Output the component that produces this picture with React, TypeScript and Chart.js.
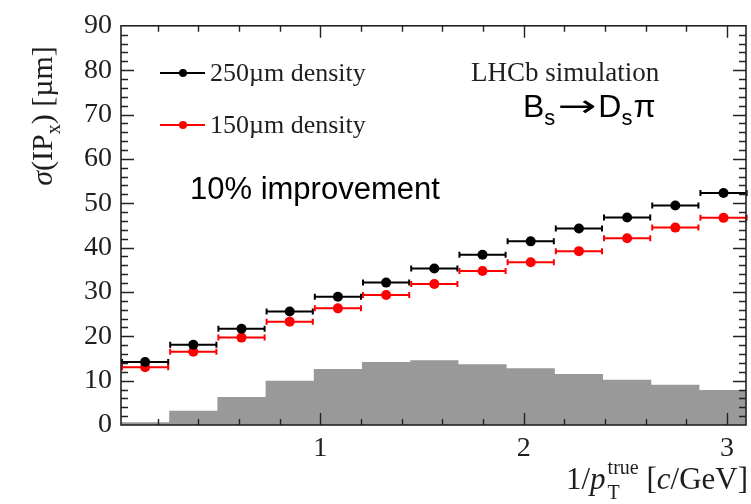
import React, { useEffect, useRef } from "react";
import { Chart, registerables } from "chart.js";

Chart.register(...registerables);

// ---- data ----
const binEdges = [0.02, 0.257, 0.494, 0.731, 0.968, 1.205, 1.442, 1.679, 1.916, 2.153, 2.39, 2.627, 2.864, 3.101];
const sigma250 = [14.2, 18.1, 21.7, 25.6, 28.9, 32.1, 35.3, 38.4, 41.4, 44.3, 46.8, 49.5, 52.3];
const sigma150 = [13.0, 16.5, 19.7, 23.3, 26.3, 29.3, 31.8, 34.7, 36.7, 39.2, 42.1, 44.5, 46.7];
const histogram = [0.6, 3.2, 6.3, 10.0, 12.6, 14.2, 14.6, 13.7, 12.8, 11.5, 10.2, 9.1, 7.9];
const xTickValues = [1, 2, 3];
const legendLabels = ["250\u00b5m density", "150\u00b5m density"];
const seriesColors = ["#000000", "#ff0000"];

const X_MIN = 0.02;
const X_MAX = 3.093;
const Y_MIN = 0;
const Y_MAX = 90;
const X_MINOR = 0.2;
const Y_MINOR = 2;

const SERIF = "'Liberation Serif', 'DejaVu Serif', serif";
const SANS = "'Liberation Sans', Arial, sans-serif";
const TEXT = "#1e1e1e";

const centers = binEdges.slice(0, -1).map((e, i) => (e + binEdges[i + 1]) / 2);

function drawErrorBars(chart: any) {
  const { ctx, scales } = chart;
  const x = scales.x;
  const y = scales.y;
  const series = [sigma250, sigma150];
  ctx.save();
  ctx.lineWidth = 2;
  series.forEach((vals, s) => {
    ctx.strokeStyle = seriesColors[s];
    vals.forEach((v, i) => {
      const x0 = x.getPixelForValue(binEdges[i]);
      const x1 = x.getPixelForValue(binEdges[i + 1]);
      const py = y.getPixelForValue(v);
      ctx.beginPath();
      ctx.moveTo(x0 + 1, py);
      ctx.lineTo(x1 - 1, py);
      ctx.moveTo(x0 + 1, py - 3);
      ctx.lineTo(x0 + 1, py + 3);
      ctx.moveTo(x1 - 1, py - 3);
      ctx.lineTo(x1 - 1, py + 3);
      ctx.stroke();
    });
  });
  ctx.restore();
}

function drawFrame(chart: any) {
  const { ctx, chartArea: a, scales } = chart;
  const x = scales.x;
  const y = scales.y;
  ctx.save();
  ctx.strokeStyle = "#222";
  ctx.lineWidth = 1.6;
  ctx.strokeRect(a.left, a.top, a.right - a.left, a.bottom - a.top);
  ctx.lineWidth = 1.4;
  ctx.beginPath();
  for (let k = 1; k * X_MINOR <= X_MAX + 1e-9; k++) {
    const v = k * X_MINOR;
    if (v < X_MIN) continue;
    const px = Math.round(x.getPixelForValue(v)) + 0.5;
    const major = Math.abs(v - Math.round(v)) < 1e-6;
    const len = major ? 12 : 6;
    ctx.moveTo(px, a.bottom);
    ctx.lineTo(px, a.bottom - len);
    ctx.moveTo(px, a.top);
    ctx.lineTo(px, a.top + len);
  }
  for (let v = Y_MIN + Y_MINOR; v < Y_MAX; v += Y_MINOR) {
    const py = Math.round(y.getPixelForValue(v)) + 0.5;
    const major = v % 10 === 0;
    const len = major ? 13 : 7;
    ctx.moveTo(a.left, py);
    ctx.lineTo(a.left + len, py);
    ctx.moveTo(a.right, py);
    ctx.lineTo(a.right - len, py);
  }
  ctx.stroke();
  ctx.restore();
}

function drawTexts(chart: any) {
  const { ctx } = chart;
  ctx.save();
  ctx.fillStyle = TEXT;
  ctx.textBaseline = "middle";

  // legend
  const rows = [73, 125];
  rows.forEach((ry, i) => {
    ctx.strokeStyle = seriesColors[i];
    ctx.fillStyle = seriesColors[i];
    ctx.lineWidth = 2;
    ctx.beginPath();
    ctx.moveTo(160, ry);
    ctx.lineTo(205, ry);
    ctx.stroke();
    ctx.beginPath();
    ctx.arc(183, ry, 4, 0, Math.PI * 2);
    ctx.fill();
    ctx.fillStyle = TEXT;
    ctx.font = `26px ${SERIF}`;
    ctx.textAlign = "left";
    ctx.fillText(legendLabels[i], 210, ry + 1);
  });

  // LHCb simulation
  ctx.font = `27px ${SERIF}`;
  ctx.fillText("LHCb simulation", 471, 74);

  // B_s -> D_s pi
  ctx.textBaseline = "alphabetic";
  ctx.fillStyle = "#000";
  let cx = 523;
  const by = 117;
  const big = `32px ${SANS}`;
  const small = `22px ${SANS}`;
  const seg = (t: string, f: string, dy: number) => {
    ctx.font = f;
    ctx.fillText(t, cx, by + dy);
    cx += ctx.measureText(t).width;
  };
  seg("B", big, 0);
  seg("s", small, 8);
  cx += 2;
  ctx.font = `30px 'DejaVu Sans', sans-serif`;
  const aw = ctx.measureText("\u2192").width;
  ctx.save();
  ctx.translate(cx, by - 1);
  ctx.scale(1.55, 1);
  ctx.fillText("\u2192", 0, 0);
  ctx.restore();
  cx += aw * 1.55 + 2;
  seg("D", big, 0);
  seg("s", small, 8);
  cx += 1;
  seg("\u03c0", big, 0);

  // 10% improvement
  ctx.font = `31px ${SANS}`;
  ctx.fillText("10% improvement", 190, 199);

  // x axis title: 1/p_T^true [c/GeV]
  ctx.fillStyle = TEXT;
  const main = `31px ${SERIF}`;
  const ital = `italic 31px ${SERIF}`;
  const sm = `20px ${SERIF}`;
  const baseY = 489;
  ctx.font = main;
  const w1 = ctx.measureText("1/").width;
  ctx.font = ital;
  const wp = ctx.measureText("p").width;
  ctx.font = sm;
  const wsub = Math.max(ctx.measureText("T").width, ctx.measureText("true").width);
  ctx.font = main;
  const w2 = ctx.measureText(" [").width;
  ctx.font = ital;
  const wc = ctx.measureText("c").width;
  ctx.font = main;
  const w3 = ctx.measureText("/GeV]").width;
  let tx = 748 - (w1 + wp + 2 + wsub + w2 + wc + w3);
  ctx.font = main;
  ctx.fillText("1/", tx, baseY);
  tx += w1;
  ctx.font = ital;
  ctx.fillText("p", tx, baseY);
  tx += wp + 2;
  ctx.font = sm;
  ctx.fillText("true", tx, baseY - 15);
  ctx.fillText("T", tx, baseY + 10);
  tx += wsub;
  ctx.font = main;
  ctx.fillText(" [", tx, baseY);
  tx += w2;
  ctx.font = ital;
  ctx.fillText("c", tx, baseY);
  tx += wc;
  ctx.font = main;
  ctx.fillText("/GeV]", tx, baseY);

  // y axis title: sigma(IP_x) [um]
  ctx.save();
  ctx.translate(52, 116);
  ctx.rotate(-Math.PI / 2);
  const ym = `30px ${SERIF}`;
  const yi = `italic 30px ${SERIF}`;
  const ys = `20px ${SERIF}`;
  const parts: [string, string, number][] = [
    ["\u03c3", yi, 0],
    ["(IP", ym, 0],
    ["x", ys, 8],
    [") [\u00b5m]", ym, 0],
  ];
  let total = 0;
  parts.forEach(([t, f]) => {
    ctx.font = f;
    total += ctx.measureText(t).width;
  });
  let yx = -total / 2;
  parts.forEach(([t, f, dy]) => {
    ctx.font = f;
    ctx.fillText(t, yx, dy);
    yx += ctx.measureText(t).width;
  });
  ctx.restore();

  ctx.restore();
}

const decorPlugin = {
  id: "decor",
  afterDatasetDraw(chart: any, args: any) {
    if (args.index === 2) drawErrorBars(chart);
  },
  afterDraw(chart: any) {
    drawFrame(chart);
    drawTexts(chart);
  },
};

export default function App() {
  const ref = useRef<HTMLCanvasElement | null>(null);

  useEffect(() => {
    document.body.style.margin = "0";
    const canvas = ref.current;
    if (!canvas) return;
    const histPoints = binEdges.map((e, i) => ({ x: e, y: histogram[Math.min(i, histogram.length - 1)] }));
    const chart = new Chart(canvas, {
      type: "line",
      data: {
        datasets: [
          {
            label: legendLabels[0],
            data: centers.map((c, i) => ({ x: c, y: sigma250[i] })),
            showLine: false,
            pointRadius: 5,
            pointBackgroundColor: seriesColors[0],
            pointBorderWidth: 0,
            borderColor: seriesColors[0],
            order: 0,
          },
          {
            label: legendLabels[1],
            data: centers.map((c, i) => ({ x: c, y: sigma150[i] })),
            showLine: false,
            pointRadius: 5,
            pointBackgroundColor: seriesColors[1],
            pointBorderWidth: 0,
            borderColor: seriesColors[1],
            order: 1,
          },
          {
            label: "hist",
            data: histPoints,
            stepped: "before",
            fill: "origin",
            backgroundColor: "#999999",
            borderColor: "#999999",
            borderWidth: 0,
            pointRadius: 0,
            order: 2,
          },
        ],
      },
      options: {
        animation: false,
        responsive: false,
        maintainAspectRatio: false,
        layout: { padding: { left: 0, right: 3, top: 21, bottom: 0 } },
        plugins: { legend: { display: false }, tooltip: { enabled: false } },
        events: [],
        scales: {
          x: {
            type: "linear",
            min: X_MIN,
            max: X_MAX,
            grid: { display: false, drawTicks: false },
            border: { display: false },
            afterBuildTicks: (scale: any) => {
              scale.ticks = xTickValues.map((v) => ({ value: v }));
            },
            afterFit: (scale: any) => {
              scale.height = 79;
            },
            ticks: {
              color: TEXT,
              font: { family: SERIF, size: 28 },
              padding: 7,
              maxRotation: 0,
              autoSkip: false,
              callback: (v: any) => String(v),
            },
          },
          y: {
            type: "linear",
            min: Y_MIN,
            max: Y_MAX,
            grid: { display: false, drawTicks: false },
            border: { display: false },
            afterFit: (scale: any) => {
              scale.width = 121;
            },
            ticks: {
              stepSize: 10,
              color: TEXT,
              font: { family: SERIF, size: 28 },
              padding: 9,
            },
          },
        },
      },
      plugins: [decorPlugin],
    });
    return () => chart.destroy();
  }, []);

  return (
    <div style={{ position: "absolute", left: 0, top: 0, width: 751, height: 504, background: "#fff" }}>
      <canvas ref={ref} width={751} height={504} style={{ display: "block" }} />
    </div>
  );
}
